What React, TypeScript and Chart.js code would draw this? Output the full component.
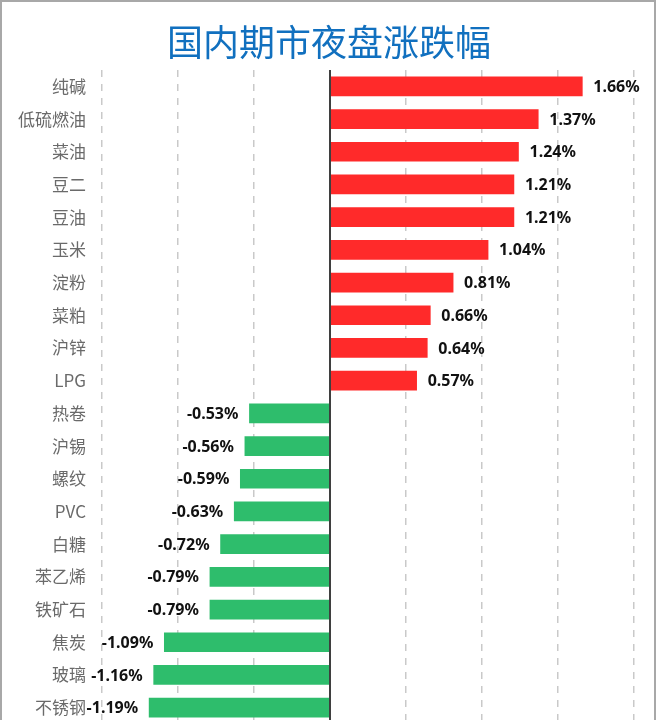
import React, { useEffect, useRef } from "react";
import { Chart, registerables } from "chart.js";

Chart.register(...registerables);

// Night-session price change per contract (%)
const products = [
  "纯碱", "低硫燃油", "菜油", "豆二", "豆油", "玉米", "淀粉", "菜粕", "沪锌", "LPG",
  "热卷", "沪锡", "螺纹", "PVC", "白糖", "苯乙烯", "铁矿石", "焦炭", "玻璃", "不锈钢",
];
const changes = [
  1.66, 1.37, 1.24, 1.21, 1.21, 1.04, 0.81, 0.66, 0.64, 0.57,
  -0.53, -0.56, -0.59, -0.63, -0.72, -0.79, -0.79, -1.09, -1.16, -1.19,
];
const axisMin = -1.5;
const axisMax = 2.0;
const axisStep = 0.5;
const titleText = "国内期市夜盘涨跌幅";

const UP = "#FF2A2A";
const DOWN = "#2EBD6C";

// Heading centred across the full canvas
const heading = {
  id: "heading",
  afterDraw(chart: any) {
    const { ctx, width } = chart;
    ctx.save();
    ctx.font = "normal 36px 'Noto Sans CJK SC', sans-serif";
    ctx.fillStyle = "#1170BF";
    ctx.textAlign = "center";
    ctx.textBaseline = "middle";
    ctx.fillText(titleText, width / 2 + 1, 42);
    ctx.restore();
  },
};

// Labels at the outer end of each bar
const valueLabels = {
  id: "valueLabels",
  afterDatasetsDraw(chart: any) {
    const { ctx } = chart;
    const meta = chart.getDatasetMeta(0);
    ctx.save();
    ctx.font = "bold 16px 'Noto Sans', 'Open Sans', sans-serif";
    ctx.fillStyle = "#111111";
    ctx.textBaseline = "middle";
    meta.data.forEach((bar: any, i: number) => {
      const v = changes[i];
      const text = v.toFixed(2) + "%";
      if (v >= 0) {
        ctx.textAlign = "left";
        ctx.fillText(text, bar.x + 11, bar.y + 1);
      } else {
        ctx.textAlign = "right";
        ctx.fillText(text, bar.x - 11, bar.y + 1);
      }
    });
    ctx.restore();
  },
};

// Solid axis line at zero
const zeroLine = {
  id: "zeroLine",
  afterDatasetsDraw(chart: any) {
    const { ctx, chartArea } = chart;
    const x = chart.scales.x.getPixelForValue(0);
    ctx.save();
    ctx.strokeStyle = "#3f3f3f";
    ctx.lineWidth = 2;
    ctx.beginPath();
    ctx.moveTo(x, chartArea.top);
    ctx.lineTo(x, chartArea.bottom + 4);
    ctx.stroke();
    ctx.restore();
  },
};

export default function App() {
  const canvasRef = useRef<HTMLCanvasElement | null>(null);

  useEffect(() => {
    document.body.style.margin = "0";
    const canvas = canvasRef.current;
    if (!canvas) return;
    const chart = new Chart(canvas, {
      type: "bar",
      data: {
        labels: products,
        datasets: [
          {
            data: changes,
            backgroundColor: changes.map((v) => (v >= 0 ? UP : DOWN)),
            borderWidth: 0,
            barThickness: 19,
          },
        ],
      },
      options: {
        indexAxis: "y",
        responsive: false,
        animation: false,
        devicePixelRatio: 1,
        layout: { padding: { top: 70, right: 22, bottom: 0, left: 0 } },
        plugins: {
          legend: { display: false },
          tooltip: { enabled: false },
          title: { display: false },
        },
        scales: {
          x: {
            min: axisMin,
            max: axisMax,
            ticks: { display: false, stepSize: axisStep },
            grid: {
              drawTicks: false,
              color: (c: any) => (c.tick && c.tick.value === 0 ? "rgba(0,0,0,0)" : "#c9c9c9"),
              lineWidth: 1.5,
            },
            border: { display: false, dash: [7, 7] },
            afterFit(scale: any) {
              scale.height = 0;
            },
          },
          y: {
            grid: { display: false, drawTicks: false },
            border: { display: false },
            ticks: {
              padding: 16,
              color: "#6a6a6a",
              font: { size: 17, family: "'Noto Sans CJK SC', sans-serif" },
            },
            afterFit(scale: any) {
              scale.width = 102;
              scale.paddingTop = 0;
              scale.paddingBottom = 0;
            },
          },
        },
      },
      plugins: [valueLabels, zeroLine, heading],
    });
    return () => chart.destroy();
  }, []);

  return (
    <div
      style={{
        position: "fixed",
        left: 0,
        top: 0,
        width: 656,
        height: 720,
        overflow: "hidden",
        background: "#ffffff",
      }}
    >
      <canvas ref={canvasRef} width={656} height={724} style={{ display: "block" }} />
      <div
        style={{
          position: "absolute",
          left: 0,
          top: 0,
          width: 656,
          height: 740,
          boxSizing: "border-box",
          border: "2px solid #a8a8a8",
          pointerEvents: "none",
        }}
      />
    </div>
  );
}
